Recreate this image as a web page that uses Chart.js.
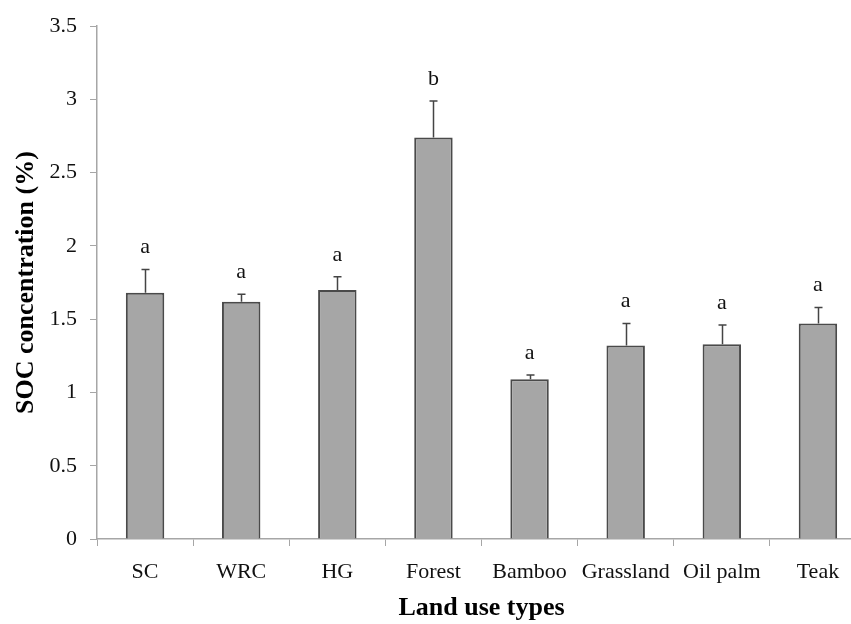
<!DOCTYPE html>
<html>
<head>
<meta charset="utf-8">
<script src="https://cdn.jsdelivr.net/npm/chart.js@4/dist/chart.umd.min.js"></script>
<style>
  html, body { margin: 0; padding: 0; background: #fff; overflow: hidden; }
  #wrap { width: 866px; height: 624px; }
</style>
</head>
<body>
<div id="wrap"><canvas id="grafico"></canvas></div>
<script>
const categorias = ['SC', 'WRC', 'HG', 'Forest', 'Bamboo', 'Grassland', 'Oil palm', 'Teak'];
const valores = [1.68, 1.62, 1.70, 2.74, 1.09, 1.32, 1.33, 1.47];
const errores = [0.16, 0.05, 0.09, 0.25, 0.03, 0.15, 0.13, 0.11];
const letras = ['a', 'a', 'a', 'b', 'a', 'a', 'a', 'a'];
const yTicks = [0, 0.5, 1, 1.5, 2, 2.5, 3, 3.5];

const serif = "'Liberation Serif', 'Times New Roman', serif";
const ejeColor = '#a6a6a6';

// barras de error (solo hacia arriba) y letras de significancia
const errorBars = {
    id: 'errorBars',
    afterDatasetsDraw(chart) {
        const ctx = chart.ctx;
        const y = chart.scales.y;
        const meta = chart.getDatasetMeta(0);
        ctx.save();
        meta.data.forEach((bar, i) => {
            const x = Math.round(bar.x) + 0.5;
            const top = y.getPixelForValue(valores[i]);
            const tope = y.getPixelForValue(valores[i] + errores[i]);
            ctx.strokeStyle = '#444';
            ctx.lineWidth = 1.5;
            ctx.beginPath();
            ctx.moveTo(x, top);
            ctx.lineTo(x, tope);
            ctx.moveTo(x - 4, tope);
            ctx.lineTo(x + 4, tope);
            ctx.stroke();

            ctx.fillStyle = '#111';
            ctx.font = '22px ' + serif;
            ctx.textAlign = 'center';
            ctx.textBaseline = 'middle';
            ctx.fillText(letras[i], bar.x, tope - 22);
        });
        ctx.restore();
    }
};

new Chart(document.getElementById('grafico'), {
    type: 'bar',
    data: {
        labels: categorias,
        datasets: [{
            data: valores,
            backgroundColor: '#a6a6a6',
            borderColor: '#4a4a4a',
            borderWidth: 2,
            categoryPercentage: 1,
            barPercentage: 0.4
        }]
    },
    options: {
        responsive: true,
        maintainAspectRatio: false,
        animation: false,
        layout: { padding: { top: 24, left: 0, right: 0, bottom: 0 } },
        plugins: {
            legend: { display: false },
            tooltip: { enabled: false }
        },
        scales: {
            x: {
                grid: {
                    display: true,
                    drawOnChartArea: false,
                    drawTicks: true,
                    tickLength: 7,
                    offset: true,
                    color: ejeColor
                },
                border: { display: true, color: ejeColor, width: 1.5 },
                ticks: {
                    color: '#111',
                    font: { family: serif, size: 22 },
                    padding: 13,
                    maxRotation: 0,
                    autoSkip: false
                },
                title: {
                    display: true,
                    text: 'Land use types',
                    color: '#000',
                    font: { family: serif, size: 26, weight: 'bold' },
                    padding: { top: 0, bottom: 0 }
                },
                afterFit(scale) { scale.height = 85; }
            },
            y: {
                min: 0,
                max: 3.5,
                grid: {
                    display: true,
                    drawOnChartArea: false,
                    drawTicks: true,
                    tickLength: 7,
                    color: ejeColor
                },
                border: { display: true, color: ejeColor, width: 1.5 },
                afterBuildTicks(scale) {
                    scale.ticks = yTicks.map(v => ({ value: v }));
                },
                ticks: {
                    color: '#111',
                    font: { family: serif, size: 22 },
                    padding: 13,
                    callback: function(value) { return String(value); }
                },
                title: {
                    display: true,
                    text: 'SOC concentration (%)',
                    color: '#000',
                    font: { family: serif, size: 26, weight: 'bold' },
                    padding: { top: 11, bottom: 0 }
                },
                afterFit(scale) { scale.width = 97; }
            }
        }
    },
    plugins: [errorBars]
});
</script>
</body>
</html>
